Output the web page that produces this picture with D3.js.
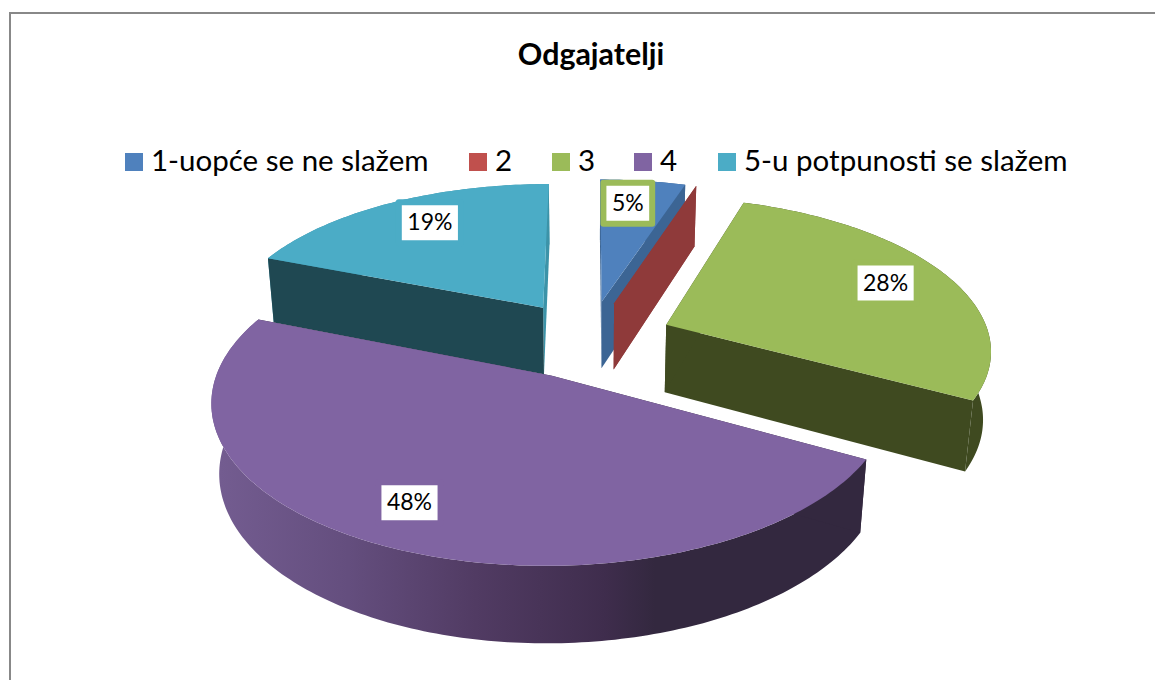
<!DOCTYPE html>
<html><head><meta charset="utf-8">
<script src="https://cdn.jsdelivr.net/npm/d3@7"></script>
<style>html,body{margin:0;padding:0;background:#fff;overflow:hidden}svg{display:block}text{font-family:Lato,"Open Sans",sans-serif;fill:#000}</style>
</head><body><svg id="c" width="1155" height="680"></svg>
<script>
const categories = ["1-uopće se ne slažem","2","3","4","5-u potpunosti se slažem"];
const values = [5,0,28,48,19];
const percentLabels = ["5%","0%","28%","48%","19%"];
const topColors = ["#4F81BD","#C0504D","#9BBB59","#8064A2","#4BACC6"];
const wallColors = ["#3C6594","#8F3A3A","#3F4A20","#33283F","#1F4852"];
const endWallColors = ["#3C6594","#8F3A3A","#3F4A20","#33283F","#3C93A8"];
const outerColors = ["#3C6594","#8F3A3A","#3F4A20","url(#purpleWall)","#3C93A8"];
const labelBorders = ["#9BBB59","#C0504D","#9BBB59","#8064A2","#4BACC6"];
const labelNudgeX = [-7,0,0,-13,9];
const labelNudgeY = [-2,0,-2,-1,-2];
const title = "Odgajatelji";
const legendX = [125,469,552,634,718];
const drawOrder = [4,0,1,2,3];

const cx=589, cy=339, R=324, B=150.3, persp=.147, zPersp=.02, D=69.5, explode=.26, labelR=.78;
const svg=d3.select("#c");

const defs=svg.append("defs");
const grad=defs.append("linearGradient").attr("id","purpleWall").attr("gradientUnits","userSpaceOnUse")
  .attr("x1",220).attr("x2",860).attr("y1",0).attr("y2",0);
[[0,"#735C90"],[.2,"#644E7E"],[.4,"#513B63"],[.6,"#3F2D4D"],[.68,"#33283F"],[1,"#33283F"]]
  .forEach(s=>grad.append("stop").attr("offset",s[0]).attr("stop-color",s[1]));

svg.append("rect").attr("x",10).attr("y",13).attr("width",1400).attr("height",900)
  .attr("fill","#fff").attr("stroke","#888").attr("stroke-width",2);

svg.append("text").attr("x",591).attr("y",65).attr("text-anchor","middle")
  .attr("font-size",30.4).attr("font-weight",700).text(title);

const legend=svg.append("g");
categories.forEach((c,i)=>{
  legend.append("rect").attr("x",legendX[i]).attr("y",153).attr("width",18).attr("height",18).attr("fill",topColors[i]);
  legend.append("text").attr("x",legendX[i]+26).attr("y",171).attr("font-size",29.5).text(c);
});

const arcs=d3.pie().sort(null).value(d=>d)(values);
const line=d3.line();
function project(a,r,z,off){
  const u=off[0]+r*Math.sin(a), v=off[1]-r*Math.cos(a);
  const w=1-persp*v+zPersp*z;
  return [cx+R*u/w, cy+(B*v+D*z)/w];
}
const rimStep=Math.PI/180;
function rim(a0,a1,z,off){
  const n=Math.max(1,Math.ceil((a1-a0)/rimStep));
  return d3.range(n+1).map(i=>project(a0+(a1-a0)*i/n,1,z,off));
}
function quad(a,off){
  return line([project(a,0,0,off),project(a,1,0,off),project(a,1,1,off),project(a,0,1,off)])+"Z";
}
const g=svg.append("g");
drawOrder.forEach(i=>{
  const d=arcs[i], mid=(d.startAngle+d.endAngle)/2;
  const off=[explode*Math.sin(mid),-explode*Math.cos(mid)];
  if(values[i]>0){
    g.append("path").attr("fill",outerColors[i])
      .attr("d",line(rim(d.startAngle,d.endAngle,0,off).concat(rim(d.startAngle,d.endAngle,1,off).reverse()))+"Z");
  }
  g.append("path").attr("fill",endWallColors[i]).attr("d",quad(d.endAngle,off));
  g.append("path").attr("fill",wallColors[i]).attr("d",quad(d.startAngle,off));
  if(values[i]>0){
    g.append("path").attr("fill",topColors[i])
      .attr("d",line([project(0,0,0,off)].concat(rim(d.startAngle,d.endAngle,0,off)))+"Z");
  }
});

const labels=svg.append("g");
arcs.forEach((d,i)=>{
  if(values[i]<=0) return;
  const mid=(d.startAngle+d.endAngle)/2;
  const off=[explode*Math.sin(mid),-explode*Math.cos(mid)];
  const p=project(mid,labelR,0,off);
  const x=p[0]+labelNudgeX[i], y=p[1]+labelNudgeY[i];
  const box=labels.append("rect");
  const t=labels.append("text").attr("x",x).attr("y",y+8).attr("text-anchor","middle").attr("font-size",23).text(percentLabels[i]);
  const w=t.node().getComputedTextLength()+17;
  box.attr("x",x-w/2).attr("y",y-20).attr("width",w).attr("height",41)
    .attr("fill","#fff").attr("stroke",labelBorders[i]).attr("stroke-width",6).attr("stroke-linejoin","round");
});
</script></body></html>
